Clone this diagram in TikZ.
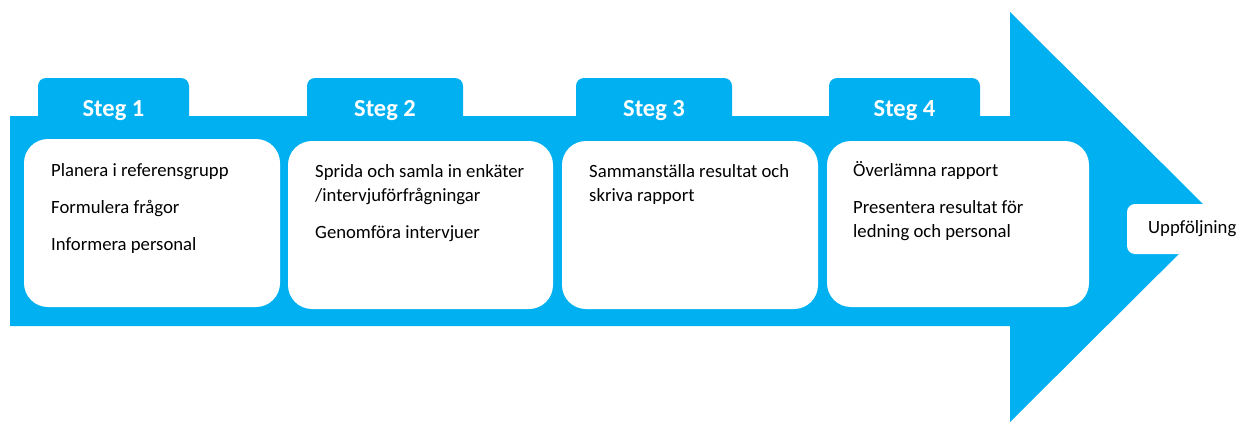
\documentclass[tikz,border=0pt]{standalone}
\usepackage{fontspec}
\setmainfont{Carlito}
\definecolor{arrowblue}{HTML}{00B0F0}
\begin{document}
\begin{tikzpicture}[x=1pt,y=-1pt,
  tabbox/.style={fill=arrowblue, rounded corners=8pt, minimum width=151pt, minimum height=56pt, inner sep=0pt},
  stegtext/.style={anchor=base, text=white, font=\fontsize{24.5}{28}\selectfont\bfseries, inner sep=0pt},
  whitebox/.style={fill=white, rounded corners=24pt, inner sep=0pt},
  bodytext/.style={anchor=base west, align=left, inner sep=0pt, font=\fontsize{18.7}{24}\selectfont}]
\useasboundingbox (0,0) rectangle (1246,421);
% arrow
\fill[arrowblue] (10,116) -- (1010,116) -- (1010,12) -- (1216,217) -- (1010,422) -- (1010,326) -- (10,326) -- cycle;
% tabs
\node[tabbox] (tab1) at (113.5,106) {};
\node[tabbox, minimum width=156pt] (tab2) at (385,106) {};
\node[tabbox, minimum width=156pt] (tab3) at (654,106) {};
\node[tabbox] (tab4) at (904.5,106) {};
\node[stegtext] (s1) at (113.5,116) {Steg 1};
\node[stegtext] (s2) at (385,116) {Steg 2};
\node[stegtext] (s3) at (654,116) {Steg 3};
\node[stegtext] (s4) at (904.5,116) {Steg 4};
% white boxes
\node[whitebox, minimum width=256pt, minimum height=168pt] (b1) at (152,223) {};
\node[whitebox, minimum width=265pt, minimum height=168pt] (b2) at (420.5,225) {};
\node[whitebox, minimum width=256pt, minimum height=168pt] (b3) at (690,225) {};
\node[whitebox, minimum width=262pt, minimum height=166pt] (b4) at (958,224) {};
% texts (base anchor = baseline of last line)
\node[bodytext] (t1) at (51,250) {Planera i referensgrupp\\[13pt]Formulera frågor\\[13pt]Informera personal};
\node[bodytext] (t2) at (315,238) {Sprida och samla in enkäter\\/intervjuförfrågningar\\[13pt]Genomföra intervjuer};
\node[bodytext] (t3) at (589,201) {Sammanställa resultat och\\skriva rapport};
\node[bodytext] (t4) at (853,237) {Överlämna rapport\\[13pt]Presentera resultat för\\ledning och personal};
% follow-up
\node[fill=white, rounded corners=8pt, minimum width=140pt, minimum height=50pt, inner sep=0pt] (up) at (1197,229) {};
\node[anchor=base west, inner sep=0pt, font=\fontsize{18.7}{24}\selectfont] (upt) at (1148,233) {Uppföljning};
\end{tikzpicture}
\end{document}
